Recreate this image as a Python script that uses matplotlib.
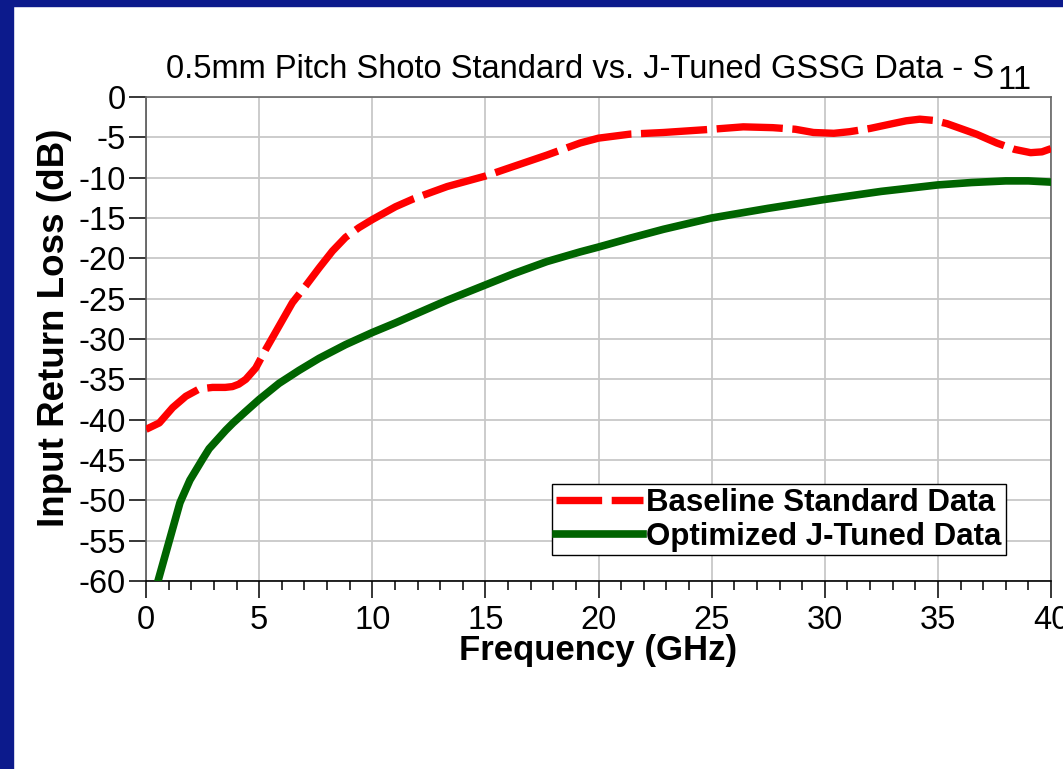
import matplotlib
matplotlib.use("Agg")
import matplotlib.pyplot as plt
from matplotlib.lines import Line2D
from matplotlib.patches import Rectangle
from matplotlib.ticker import MultipleLocator

plt.rcParams['font.family'] = ['Liberation Sans', 'DejaVu Sans']
plt.rcParams['axes.unicode_minus'] = False

# baseline (red dashed) trace
base_freq = [0.0, 0.59, 1.18, 1.76, 2.35, 2.94, 3.5, 3.82, 4.1, 4.41, 4.85,
             5.29, 5.88, 6.47, 7.06, 7.65, 8.24, 8.82, 9.41, 10.0, 11.03, 11.84,
             13.31, 15.0, 16.25, 17.72, 19.19, 20.0, 21.4, 22.87, 25.0, 26.4,
             27.7, 28.7, 29.5, 30.4, 31.1, 32.0, 33.0, 33.6, 34.2, 34.8, 35.4,
             35.8, 36.7, 37.6, 38.4, 39.1, 39.6, 40.0]
base_s11 = [-41.2, -40.4, -38.5, -37.1, -36.2, -36.0, -36.0, -35.9, -35.6, -35.0,
            -33.6, -31.3, -28.4, -25.5, -23.4, -21.2, -19.1, -17.4, -16.2, -15.2,
            -13.6, -12.6, -11.1, -9.8, -8.6, -7.2, -5.7, -5.1, -4.6, -4.4, -4.0,
            -3.7, -3.8, -4.0, -4.4, -4.5, -4.3, -3.9, -3.3, -2.95, -2.75, -2.9,
            -3.3, -3.7, -4.6, -5.7, -6.5, -6.9, -6.8, -6.4]

# optimized (green solid) trace
opt_freq = [0.45, 0.53, 1.13, 1.5, 1.94, 2.5, 2.79, 3.53, 3.85, 4.4, 5.0, 5.88,
            6.76, 7.65, 8.82, 10.0, 11.03, 11.84, 13.31, 15.0, 16.25, 17.72,
            19.19, 20.0, 21.4, 22.87, 25.0, 27.5, 30.0, 32.5, 35.0, 36.5, 38.0,
            39.0, 40.0]
opt_s11 = [-61.0, -60.0, -54.0, -50.3, -47.5, -44.9, -43.6, -41.3, -40.4, -39.0,
           -37.5, -35.5, -33.9, -32.4, -30.7, -29.2, -28.0, -27.0, -25.2, -23.3,
           -21.9, -20.4, -19.2, -18.6, -17.5, -16.4, -15.0, -13.8, -12.7, -11.7,
           -10.9, -10.6, -10.4, -10.4, -10.55]

W, H = 1063, 769
fig = plt.figure(figsize=(W / 100, H / 100), dpi=100)
fig.patch.set_facecolor('white')

# navy frame strips (left and top)
navy = '#0C1A8C'
fig.patches.append(Rectangle((0, 0), 13 / W, 1, transform=fig.transFigure,
                             color=navy, zorder=0))
fig.patches.append(Rectangle((0, 1 - 6 / H), 1, 6 / H, transform=fig.transFigure,
                             color=navy, zorder=0))

ax = fig.add_axes([146 / W, 1 - 581 / H, (1051 - 146) / W, (581 - 97) / H])

ax.plot(base_freq, base_s11, color='#FF0000', lw=5.3, dashes=(9.0, 1.3),
        dash_capstyle='butt', zorder=3)
ax.plot(opt_freq, opt_s11, color='#006400', lw=5.5, zorder=3)

ax.set_xlim(0, 40)
ax.set_ylim(-60, 0)
ax.xaxis.set_major_locator(MultipleLocator(5))
ax.xaxis.set_minor_locator(MultipleLocator(1))
ax.yaxis.set_major_locator(MultipleLocator(5))
ax.grid(True, which='major', color='#C8C8C8', lw=1.3)
ax.set_axisbelow(True)

ax.tick_params(axis='both', which='major', direction='out', length=12.5,
               width=1.1, labelsize=23.5, color='black')
ax.tick_params(axis='x', which='major', pad=5)
ax.tick_params(axis='y', which='major', pad=2)
ax.tick_params(axis='x', which='minor', direction='out', length=6.5, width=1.1)

ax.spines['left'].set_color('#555555')
ax.spines['bottom'].set_color('black')
ax.spines['top'].set_color('#666666')
ax.spines['right'].set_color('#666666')
for s in ax.spines.values():
    s.set_linewidth(1.2)

# title with full-size lowered subscript
title = fig.text(166 / W, 1 - 78 / H,
                 '0.5mm Pitch Shoto Standard vs. J-Tuned GSSG Data - S',
                 fontsize=23.5, ha='left', va='baseline')
fig.canvas.draw()
bb = title.get_window_extent()
fig.text((bb.x1 + 3) / W, 1 - 89 / H, '11', fontsize=23.5, ha='left',
         va='baseline')

fig.text(598 / W, 1 - 660 / H, 'Frequency (GHz)', fontsize=25,
         fontweight='bold', ha='center', va='baseline')
fig.text(55 / W, 1 - 328 / H, 'Input Return Loss (dB)', fontsize=26.5,
         fontweight='bold', rotation=90, ha='center', va='center')

handles = [Line2D([], [], color='#FF0000', lw=5.3, dashes=(6.2, 1.3)),
           Line2D([], [], color='#006400', lw=5.5)]
leg = fig.legend(handles, ['Baseline Standard Data', 'Optimized J-Tuned Data'],
                 loc='upper left', bbox_to_anchor=(552 / W, 1 - 484 / H),
                 prop={'weight': 'bold', 'size': 22.5}, frameon=True,
                 fancybox=False, edgecolor='black', framealpha=1,
                 borderpad=0.12, labelspacing=0.12, handlelength=2.8,
                 handletextpad=0.1, borderaxespad=0)
leg.get_frame().set_linewidth(1.0)

fig.savefig('out.png', dpi=100)
